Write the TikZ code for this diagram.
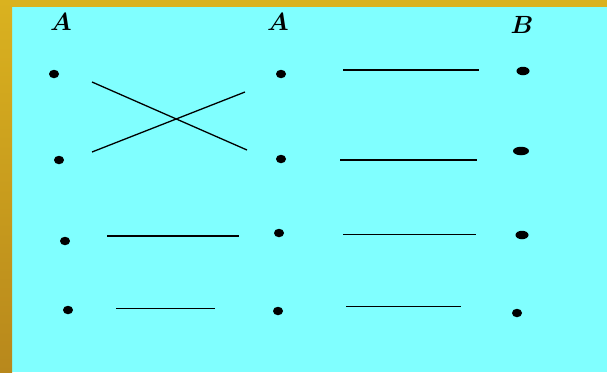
\documentclass[tikz,border=0pt]{standalone}
\usepackage{bm}
\usetikzlibrary{shapes.geometric}
\definecolor{bgcyan}{HTML}{80FFFF}
\definecolor{goldtop}{HTML}{DAB21F}
\definecolor{goldbot}{HTML}{B8881C}
\tikzset{
  dot/.style={ellipse,fill=black,draw=none,inner sep=0pt,minimum width=10pt,minimum height=8.5pt},
  wide/.style={minimum width=13pt,minimum height=8.5pt},
  seg/.style={line width=1.3pt,black},
  lbl/.style={inner sep=0pt,font=\fontsize{25}{25}\selectfont}
}
\begin{document}
\begin{tikzpicture}[x=1pt,y=-1pt]
\useasboundingbox (0,0) rectangle (607,372);
\fill[bgcyan] (0,0) rectangle (607,372);
\fill[goldtop] (0,0) rectangle (607,7);
\shade[top color=goldtop,bottom color=goldbot] (0,0) rectangle (12,372);
% labels
\node[lbl] (LA1) at (61,22) {$\bm{A}$};
\node[lbl] (LA2) at (278,22) {$\bm{A}$};
\node[lbl] (LB) at (522,25) {$\bm{B}$};
% dots column 1
\node[dot] (a1) at (54,74) {};
\node[dot] (a2) at (59,160) {};
\node[dot] (a3) at (65,241) {};
\node[dot] (a4) at (68,310) {};
% dots column 2
\node[dot] (m1) at (281,74) {};
\node[dot] (m2) at (281,159) {};
\node[dot] (m3) at (279,233) {};
\node[dot] (m4) at (278,311) {};
% dots column 3
\node[dot,wide] (b1) at (523,71) {};
\node[dot,wide,minimum width=16pt] (b2) at (521,151) {};
\node[dot,wide] (b3) at (522,235) {};
\node[dot] (b4) at (517,313) {};
% segment end points
\coordinate (x1a) at (92,82);
\coordinate (x1b) at (247,150);
\coordinate (x2a) at (92,152);
\coordinate (x2b) at (245,92);
\coordinate (s3a) at (107,236);
\coordinate (s3b) at (239,236);
\coordinate (s4a) at (116,308.5);
\coordinate (s4b) at (215,308.5);
\coordinate (r1a) at (343,70);
\coordinate (r1b) at (479,70);
\coordinate (r2a) at (340,160);
\coordinate (r2b) at (477,160);
\coordinate (r3a) at (343,234.3);
\coordinate (r3b) at (476,234.3);
\coordinate (r4a) at (346,306.7);
\coordinate (r4b) at (461,306.7);
\draw[seg] (x1a) -- (x1b);
\draw[seg] (x2a) -- (x2b);
\draw[seg] (s3a) -- (s3b);
\draw[seg] (s4a) -- (s4b);
\draw[seg] (r1a) -- (r1b);
\draw[seg] (r2a) -- (r2b);
\draw[seg] (r3a) -- (r3b);
\draw[seg] (r4a) -- (r4b);
\end{tikzpicture}
\end{document}
